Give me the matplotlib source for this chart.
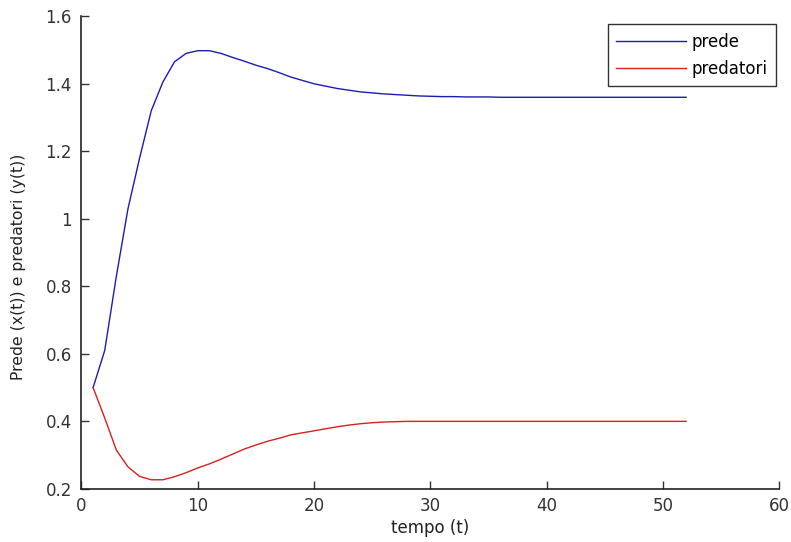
import numpy as np
import matplotlib
matplotlib.use("Agg")
import matplotlib.pyplot as plt

# time steps
t = list(range(1, 53))

# prede x(t)
prede = [0.50, 0.61, 0.83, 1.03, 1.18, 1.32, 1.405, 1.465, 1.49, 1.498,
         1.498, 1.49, 1.478, 1.467, 1.455, 1.445, 1.433, 1.42, 1.41, 1.40,
         1.393, 1.386, 1.381, 1.376, 1.373, 1.37, 1.368, 1.366, 1.364, 1.363,
         1.362, 1.362, 1.361, 1.361, 1.361, 1.36, 1.36, 1.36, 1.36, 1.36,
         1.36, 1.36, 1.36, 1.36, 1.36, 1.36, 1.36, 1.36, 1.36, 1.36,
         1.36, 1.36]

# predatori y(t)
predatori = [0.50, 0.41, 0.315, 0.265, 0.237, 0.227, 0.227, 0.236, 0.248, 0.262,
             0.274, 0.288, 0.303, 0.318, 0.33, 0.341, 0.35, 0.36, 0.366, 0.372,
             0.378, 0.384, 0.389, 0.393, 0.396, 0.398, 0.399, 0.40, 0.40, 0.40,
             0.40, 0.40, 0.40, 0.40, 0.40, 0.40, 0.40, 0.40, 0.40, 0.40,
             0.40, 0.40, 0.40, 0.40, 0.40, 0.40, 0.40, 0.40, 0.40, 0.40,
             0.40, 0.40]

xticks = [0, 10, 20, 30, 40, 50, 60]
yticks = [0.2, 0.4, 0.6, 0.8, 1.0, 1.2, 1.4, 1.6]
ytick_labels = ["0.2", "0.4", "0.6", "0.8", "1", "1.2", "1.4", "1.6"]

plt.rcParams["font.family"] = ["DejaVu Sans"]

fig = plt.figure(figsize=(7.91, 5.42), dpi=100)
ax = fig.add_axes([0.103, 0.098, 0.882, 0.872])

ax.plot(t, prede, color="#1c1cb4", linewidth=1.0, label="prede")
ax.plot(t, predatori, color="#d82020", linewidth=1.0, label="predatori")

ax.set_xlim(0, 60)
ax.set_ylim(0.2, 1.6)
ax.set_xticks(xticks)
ax.set_yticks(yticks)
ax.set_yticklabels(ytick_labels)
ax.tick_params(direction="in", length=6, width=1, labelsize=12, colors="#333333")
ax.tick_params(axis="y", pad=7)
ax.tick_params(axis="x", pad=6)

ax.spines["top"].set_visible(False)
ax.spines["right"].set_visible(False)
ax.spines["left"].set_linewidth(1.2)
ax.spines["bottom"].set_linewidth(1.2)
ax.spines["left"].set_color("#222222")
ax.spines["bottom"].set_color("#222222")

ax.set_xlabel("tempo (t)", fontsize=12, labelpad=3, color="#222222")
ax.set_ylabel("Prede (x(t)) e predatori (y(t))", fontsize=11.3, color="#222222")
ax.yaxis.set_label_coords(-0.08, 0.47)

leg = ax.legend(loc="upper right", bbox_to_anchor=(0.995, 0.983), fontsize=12,
                frameon=True, fancybox=False, edgecolor="black",
                handlelength=4.2, handletextpad=0.3, borderpad=0.5,
                labelspacing=0.55, borderaxespad=0)
leg.get_frame().set_linewidth(1.0)

fig.savefig("out.png", dpi=100)
